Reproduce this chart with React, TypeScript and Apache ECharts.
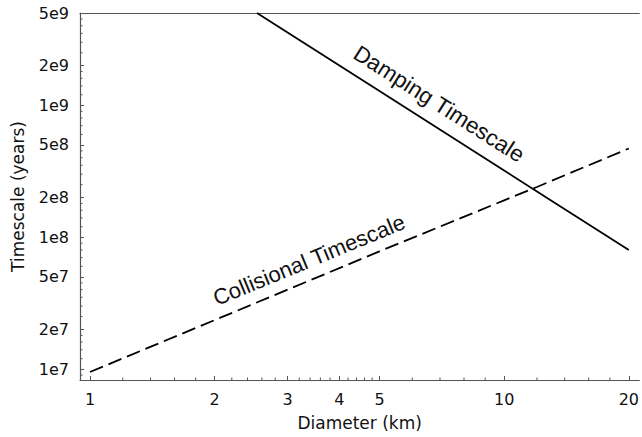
import React, { useEffect, useRef } from "react";
import * as echarts from "echarts";

// Axis ranges and ticks
const X_MIN = 0.946;
const X_MAX = 21.2;
const Y_MIN = 8.26e6;
const Y_MAX = 5e9;
const xMajorTicks = [1, 2, 3, 4, 5, 10, 20];
const xTickLabels = ["1", "2", "3", "4", "5", "10", "20"];
const xMinorTicks = [1.2, 1.4, 1.6, 1.8, 2.2, 2.4, 2.6, 2.8, 3.2, 3.4, 3.6, 3.8, 4.2, 4.4, 4.6, 4.8, 6, 7, 8, 9, 12, 14, 16, 18];
const yMajorTicks = [1e7, 2e7, 5e7, 1e8, 2e8, 5e8, 1e9, 2e9, 5e9];
const yTickLabels = ["1e7", "2e7", "5e7", "1e8", "2e8", "5e8", "1e9", "2e9", "5e9"];
const yMinorTicks = [
  9e6,
  1.2e7, 1.4e7, 1.6e7, 1.8e7, 2.5e7, 3e7, 3.5e7, 4e7, 4.5e7, 6e7, 7e7, 8e7, 9e7,
  1.2e8, 1.4e8, 1.6e8, 1.8e8, 2.5e8, 3e8, 3.5e8, 4e8, 4.5e8, 6e8, 7e8, 8e8, 9e8,
  1.2e9, 1.4e9, 1.6e9, 1.8e9, 2.5e9, 3e9, 3.5e9, 4e9, 4.5e9,
];

// Series data (diameter in km, timescale in years)
const dampingDiameter = [2.53, 5, 10, 12, 20];
const dampingTimescale = [5e9, 1.28e9, 3.2e8, 2.22e8, 8.0e7];
const collisionalDiameter = [1, 2, 5, 10, 12, 20];
const collisionalTimescale = [9.5e6, 2.35e7, 7.8e7, 1.9e8, 2.4e8, 4.7e8];

const AXIS_COLOR = "#555";
const FONT = "DejaVu Sans";

function findLabel(ticks: number[], labels: string[], v: number) {
  const i = ticks.findIndex((t) => Math.abs(t - v) / t < 1e-6);
  return i >= 0 ? labels[i] : "";
}

export default function App() {
  const ref = useRef<HTMLDivElement>(null);
  useEffect(() => {
    if (!ref.current) return;
    const chart = echarts.init(ref.current, null, { renderer: "svg" });
    const minorTickItem = (isX: boolean) => (params: any, api: any) => {
      const p = api.coord([api.value(0), api.value(1)]);
      return {
        type: "line",
        shape: isX
          ? { x1: p[0], y1: p[1], x2: p[0], y2: p[1] - 2.5 }
          : { x1: p[0], y1: p[1], x2: p[0] + 2.5, y2: p[1] },
        style: { stroke: AXIS_COLOR, lineWidth: 1 },
      };
    };
    chart.setOption({
      animation: false,
      backgroundColor: "#fff",
      grid: { left: 80, right: 0, top: 13, bottom: 57, containLabel: false },
      xAxis: [
        {
          type: "log",
          logBase: 10,
          min: X_MIN,
          max: X_MAX,
          name: "Diameter (km)",
          nameLocation: "middle",
          nameGap: 34,
          nameTextStyle: { fontFamily: FONT, fontSize: 17, color: "#111" },
          axisLine: { show: true, lineStyle: { color: AXIS_COLOR, width: 1.2 } },
          axisTick: { show: true, inside: true, length: 4, lineStyle: { color: AXIS_COLOR }, customValues: xMajorTicks },
          axisLabel: {
            show: true,
            margin: 11,
            fontFamily: FONT,
            fontSize: 16,
            color: "#111",
            customValues: xMajorTicks,
            formatter: (v: number) => findLabel(xMajorTicks, xTickLabels, v),
          },
          splitLine: { show: false },
          minorTick: { show: false },
        },
        {
          type: "log",
          logBase: 10,
          min: X_MIN,
          max: X_MAX,
          position: "top",
          axisLine: { show: true, lineStyle: { color: AXIS_COLOR, width: 1.2 } },
          axisTick: { show: false },
          axisLabel: { show: false },
          splitLine: { show: false },
        },
      ],
      yAxis: {
        type: "log",
        logBase: 10,
        min: Y_MIN,
        max: Y_MAX,
        name: "Timescale (years)",
        nameLocation: "middle",
        nameGap: 54,
        nameTextStyle: { fontFamily: FONT, fontSize: 17, color: "#111" },
        axisLine: { show: true, lineStyle: { color: AXIS_COLOR, width: 1.2 } },
        axisTick: { show: true, inside: true, length: 4, lineStyle: { color: AXIS_COLOR }, customValues: yMajorTicks },
        axisLabel: {
          show: true,
          margin: 11,
          fontFamily: FONT,
          fontSize: 16,
          color: "#111",
          customValues: yMajorTicks,
          formatter: (v: number) => findLabel(yMajorTicks, yTickLabels, v),
        },
        splitLine: { show: false },
        minorTick: { show: false },
      },
      series: [
        {
          type: "line",
          name: "Damping Timescale",
          data: dampingDiameter.map((d, i) => [d, dampingTimescale[i]]),
          showSymbol: false,
          lineStyle: { color: "#000", width: 1.8, type: "solid" },
          silent: true,
        },
        {
          type: "line",
          name: "Collisional Timescale",
          data: collisionalDiameter.map((d, i) => [d, collisionalTimescale[i]]),
          showSymbol: false,
          lineStyle: { color: "#000", width: 1.8, type: [14, 6] },
          silent: true,
        },
        {
          type: "custom",
          data: xMinorTicks.map((v) => [v, Y_MIN]),
          renderItem: minorTickItem(true),
          silent: true,
          clip: false,
        },
        {
          type: "custom",
          data: yMinorTicks.map((v) => [X_MIN, v]),
          renderItem: minorTickItem(false),
          silent: true,
          clip: false,
        },
      ],
      graphic: [
        {
          type: "text",
          x: 439,
          y: 104,
          rotation: -0.566,
          style: {
            text: "Damping Timescale",
            fontFamily: "Liberation Sans",
            fontSize: 22.5,
            fill: "#111",
            align: "center",
            verticalAlign: "middle",
          },
        },
        {
          type: "text",
          x: 309,
          y: 260,
          rotation: 0.391,
          style: {
            text: "Collisional Timescale",
            fontFamily: "Liberation Sans",
            fontSize: 22,
            fill: "#111",
            align: "center",
            verticalAlign: "middle",
          },
        },
      ],
    });
    return () => chart.dispose();
  }, []);
  return (
    <div
      ref={ref}
      style={{ position: "fixed", left: 0, top: 0, width: 642, height: 437 }}
    />
  );
}
